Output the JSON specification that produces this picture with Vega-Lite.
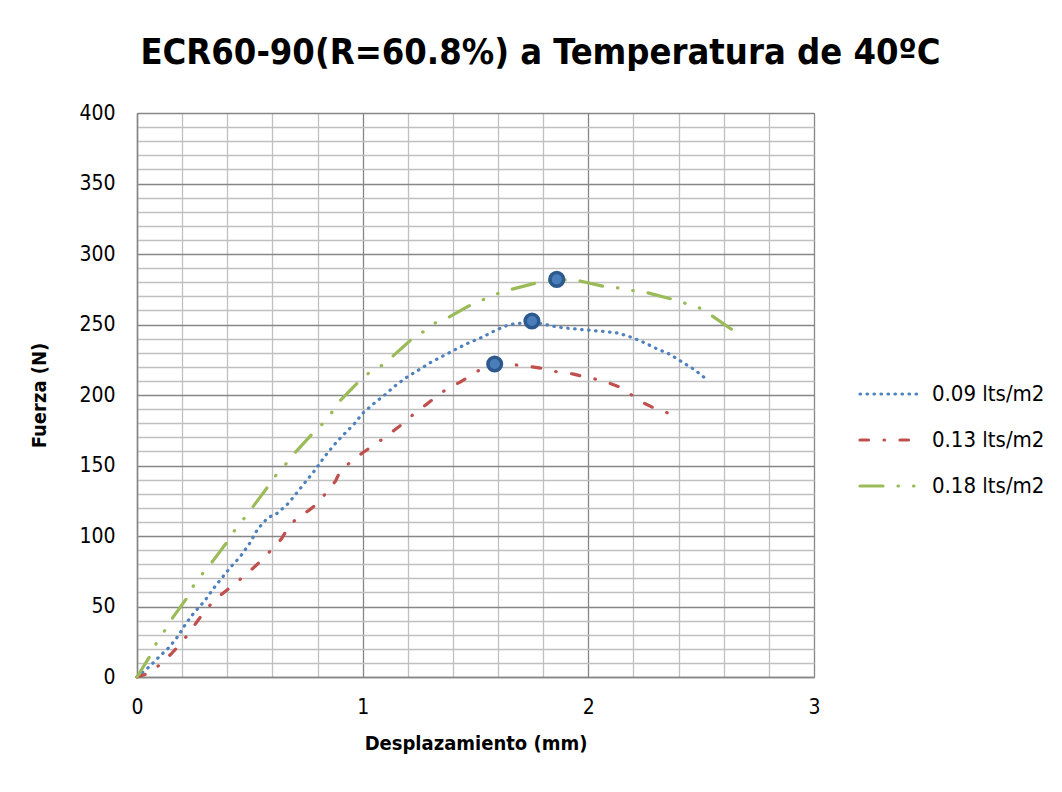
{
  "$schema": "https://vega.github.io/schema/vega-lite/v6.json",
  "autosize": {"type": "none"},
  "width": 677,
  "height": 564,
  "padding": {"left": 137, "top": 113, "right": 248, "bottom": 115},
  "background": "white",
  "title": {
    "text": "ECR60-90(R=60.8%) a Temperatura de 40ºC",
    "font": "DejaVu Sans Condensed",
    "fontSize": 36,
    "fontWeight": "bold",
    "color": "#000000",
    "anchor": "middle",
    "frame": "group",
    "dx": 65,
    "offset": 30
  },
  "config": {
    "view": {"stroke": "#868686", "strokeWidth": 1},
    "axis": {
      "labelFont": "DejaVu Sans Condensed",
      "labelFontSize": 21,
      "labelColor": "#000000",
      "titleFont": "DejaVu Sans Condensed",
      "titleFontSize": 20,
      "titleFontWeight": "bold",
      "titleColor": "#000000",
      "ticks": false,
      "domainColor": "#868686",
      "domainWidth": 1.5,
      "labelOverlap": false,
      "labelFlush": false
    },
    "legend": {
      "labelFont": "DejaVu Sans Condensed",
      "labelFontSize": 22,
      "labelColor": "#000000"
    }
  },
  "datasets": {
    "curves": [
      {"s": "0.09 lts/m2", "x": 0, "y": 0},
      {"s": "0.09 lts/m2", "x": 0.053, "y": 7},
      {"s": "0.09 lts/m2", "x": 0.096, "y": 14},
      {"s": "0.09 lts/m2", "x": 0.142, "y": 21},
      {"s": "0.09 lts/m2", "x": 0.182, "y": 29},
      {"s": "0.09 lts/m2", "x": 0.217, "y": 38},
      {"s": "0.09 lts/m2", "x": 0.25, "y": 45},
      {"s": "0.09 lts/m2", "x": 0.3, "y": 54},
      {"s": "0.09 lts/m2", "x": 0.34, "y": 63},
      {"s": "0.09 lts/m2", "x": 0.38, "y": 71},
      {"s": "0.09 lts/m2", "x": 0.415, "y": 78},
      {"s": "0.09 lts/m2", "x": 0.456, "y": 85},
      {"s": "0.09 lts/m2", "x": 0.5, "y": 95},
      {"s": "0.09 lts/m2", "x": 0.535, "y": 105},
      {"s": "0.09 lts/m2", "x": 0.58, "y": 113},
      {"s": "0.09 lts/m2", "x": 0.62, "y": 116},
      {"s": "0.09 lts/m2", "x": 0.67, "y": 123},
      {"s": "0.09 lts/m2", "x": 0.71, "y": 131},
      {"s": "0.09 lts/m2", "x": 0.75, "y": 139},
      {"s": "0.09 lts/m2", "x": 0.79, "y": 147},
      {"s": "0.09 lts/m2", "x": 0.83, "y": 156},
      {"s": "0.09 lts/m2", "x": 0.87, "y": 164},
      {"s": "0.09 lts/m2", "x": 0.91, "y": 171},
      {"s": "0.09 lts/m2", "x": 0.96, "y": 179},
      {"s": "0.09 lts/m2", "x": 1.0, "y": 187},
      {"s": "0.09 lts/m2", "x": 1.05, "y": 194},
      {"s": "0.09 lts/m2", "x": 1.09, "y": 199},
      {"s": "0.09 lts/m2", "x": 1.14, "y": 206},
      {"s": "0.09 lts/m2", "x": 1.19, "y": 212},
      {"s": "0.09 lts/m2", "x": 1.25, "y": 218},
      {"s": "0.09 lts/m2", "x": 1.3, "y": 223},
      {"s": "0.09 lts/m2", "x": 1.36, "y": 228},
      {"s": "0.09 lts/m2", "x": 1.42, "y": 233},
      {"s": "0.09 lts/m2", "x": 1.47, "y": 237},
      {"s": "0.09 lts/m2", "x": 1.53, "y": 241},
      {"s": "0.09 lts/m2", "x": 1.59, "y": 246},
      {"s": "0.09 lts/m2", "x": 1.65, "y": 250},
      {"s": "0.09 lts/m2", "x": 1.71, "y": 251},
      {"s": "0.09 lts/m2", "x": 1.75, "y": 252},
      {"s": "0.09 lts/m2", "x": 1.81, "y": 250},
      {"s": "0.09 lts/m2", "x": 1.87, "y": 248},
      {"s": "0.09 lts/m2", "x": 1.93, "y": 247},
      {"s": "0.09 lts/m2", "x": 2.0, "y": 246},
      {"s": "0.09 lts/m2", "x": 2.07, "y": 245},
      {"s": "0.09 lts/m2", "x": 2.13, "y": 244},
      {"s": "0.09 lts/m2", "x": 2.19, "y": 241},
      {"s": "0.09 lts/m2", "x": 2.25, "y": 237},
      {"s": "0.09 lts/m2", "x": 2.3, "y": 233},
      {"s": "0.09 lts/m2", "x": 2.36, "y": 229},
      {"s": "0.09 lts/m2", "x": 2.42, "y": 223},
      {"s": "0.09 lts/m2", "x": 2.47, "y": 218},
      {"s": "0.09 lts/m2", "x": 2.525, "y": 211},
      {"s": "0.13 lts/m2", "x": 0, "y": 0},
      {"s": "0.13 lts/m2", "x": 0.04, "y": 2},
      {"s": "0.13 lts/m2", "x": 0.066, "y": 4},
      {"s": "0.13 lts/m2", "x": 0.11, "y": 10},
      {"s": "0.13 lts/m2", "x": 0.155, "y": 17},
      {"s": "0.13 lts/m2", "x": 0.195, "y": 24},
      {"s": "0.13 lts/m2", "x": 0.23, "y": 31},
      {"s": "0.13 lts/m2", "x": 0.265, "y": 39},
      {"s": "0.13 lts/m2", "x": 0.297, "y": 46},
      {"s": "0.13 lts/m2", "x": 0.34, "y": 54},
      {"s": "0.13 lts/m2", "x": 0.385, "y": 60},
      {"s": "0.13 lts/m2", "x": 0.425, "y": 65},
      {"s": "0.13 lts/m2", "x": 0.47, "y": 71},
      {"s": "0.13 lts/m2", "x": 0.52, "y": 78},
      {"s": "0.13 lts/m2", "x": 0.56, "y": 84},
      {"s": "0.13 lts/m2", "x": 0.6, "y": 91},
      {"s": "0.13 lts/m2", "x": 0.64, "y": 98},
      {"s": "0.13 lts/m2", "x": 0.67, "y": 106},
      {"s": "0.13 lts/m2", "x": 0.71, "y": 113},
      {"s": "0.13 lts/m2", "x": 0.76, "y": 118},
      {"s": "0.13 lts/m2", "x": 0.8, "y": 123},
      {"s": "0.13 lts/m2", "x": 0.84, "y": 131},
      {"s": "0.13 lts/m2", "x": 0.88, "y": 139},
      {"s": "0.13 lts/m2", "x": 0.9, "y": 146},
      {"s": "0.13 lts/m2", "x": 0.95, "y": 153},
      {"s": "0.13 lts/m2", "x": 1.0, "y": 159},
      {"s": "0.13 lts/m2", "x": 1.045, "y": 164},
      {"s": "0.13 lts/m2", "x": 1.09, "y": 169},
      {"s": "0.13 lts/m2", "x": 1.14, "y": 175},
      {"s": "0.13 lts/m2", "x": 1.18, "y": 180},
      {"s": "0.13 lts/m2", "x": 1.23, "y": 187},
      {"s": "0.13 lts/m2", "x": 1.28, "y": 193},
      {"s": "0.13 lts/m2", "x": 1.32, "y": 198},
      {"s": "0.13 lts/m2", "x": 1.37, "y": 204},
      {"s": "0.13 lts/m2", "x": 1.43, "y": 209},
      {"s": "0.13 lts/m2", "x": 1.47, "y": 213},
      {"s": "0.13 lts/m2", "x": 1.52, "y": 218},
      {"s": "0.13 lts/m2", "x": 1.585, "y": 222},
      {"s": "0.13 lts/m2", "x": 1.63, "y": 223},
      {"s": "0.13 lts/m2", "x": 1.69, "y": 221},
      {"s": "0.13 lts/m2", "x": 1.75, "y": 220},
      {"s": "0.13 lts/m2", "x": 1.81, "y": 218.5},
      {"s": "0.13 lts/m2", "x": 1.87, "y": 216},
      {"s": "0.13 lts/m2", "x": 1.93, "y": 215},
      {"s": "0.13 lts/m2", "x": 1.98, "y": 213},
      {"s": "0.13 lts/m2", "x": 2.04, "y": 211},
      {"s": "0.13 lts/m2", "x": 2.1, "y": 208},
      {"s": "0.13 lts/m2", "x": 2.15, "y": 205},
      {"s": "0.13 lts/m2", "x": 2.2, "y": 199},
      {"s": "0.13 lts/m2", "x": 2.25, "y": 194},
      {"s": "0.13 lts/m2", "x": 2.3, "y": 190},
      {"s": "0.13 lts/m2", "x": 2.357, "y": 187},
      {"s": "0.18 lts/m2", "x": 0, "y": 0},
      {"s": "0.18 lts/m2", "x": 0.066, "y": 17},
      {"s": "0.18 lts/m2", "x": 0.09, "y": 25.5},
      {"s": "0.18 lts/m2", "x": 0.128, "y": 34},
      {"s": "0.18 lts/m2", "x": 0.16, "y": 42.5},
      {"s": "0.18 lts/m2", "x": 0.23, "y": 58},
      {"s": "0.18 lts/m2", "x": 0.257, "y": 67},
      {"s": "0.18 lts/m2", "x": 0.297, "y": 74.5},
      {"s": "0.18 lts/m2", "x": 0.335, "y": 82},
      {"s": "0.18 lts/m2", "x": 0.41, "y": 98},
      {"s": "0.18 lts/m2", "x": 0.44, "y": 106},
      {"s": "0.18 lts/m2", "x": 0.48, "y": 113.5},
      {"s": "0.18 lts/m2", "x": 0.515, "y": 121},
      {"s": "0.18 lts/m2", "x": 0.585, "y": 136},
      {"s": "0.18 lts/m2", "x": 0.62, "y": 144},
      {"s": "0.18 lts/m2", "x": 0.665, "y": 152},
      {"s": "0.18 lts/m2", "x": 0.7, "y": 159},
      {"s": "0.18 lts/m2", "x": 0.78, "y": 173},
      {"s": "0.18 lts/m2", "x": 0.825, "y": 180},
      {"s": "0.18 lts/m2", "x": 0.865, "y": 188},
      {"s": "0.18 lts/m2", "x": 0.9, "y": 196},
      {"s": "0.18 lts/m2", "x": 0.98, "y": 209},
      {"s": "0.18 lts/m2", "x": 1.03, "y": 216},
      {"s": "0.18 lts/m2", "x": 1.085, "y": 221},
      {"s": "0.18 lts/m2", "x": 1.13, "y": 227},
      {"s": "0.18 lts/m2", "x": 1.22, "y": 240},
      {"s": "0.18 lts/m2", "x": 1.27, "y": 245},
      {"s": "0.18 lts/m2", "x": 1.32, "y": 251},
      {"s": "0.18 lts/m2", "x": 1.38, "y": 255},
      {"s": "0.18 lts/m2", "x": 1.48, "y": 264},
      {"s": "0.18 lts/m2", "x": 1.54, "y": 268},
      {"s": "0.18 lts/m2", "x": 1.6, "y": 272},
      {"s": "0.18 lts/m2", "x": 1.66, "y": 275},
      {"s": "0.18 lts/m2", "x": 1.77, "y": 279.5},
      {"s": "0.18 lts/m2", "x": 1.86, "y": 282},
      {"s": "0.18 lts/m2", "x": 1.96, "y": 281},
      {"s": "0.18 lts/m2", "x": 2.07, "y": 277},
      {"s": "0.18 lts/m2", "x": 2.13, "y": 276},
      {"s": "0.18 lts/m2", "x": 2.2, "y": 274},
      {"s": "0.18 lts/m2", "x": 2.25, "y": 273},
      {"s": "0.18 lts/m2", "x": 2.37, "y": 268},
      {"s": "0.18 lts/m2", "x": 2.43, "y": 265},
      {"s": "0.18 lts/m2", "x": 2.49, "y": 262},
      {"s": "0.18 lts/m2", "x": 2.54, "y": 257},
      {"s": "0.18 lts/m2", "x": 2.64, "y": 246}
    ],
    "peaks": [
      {"s": "0.09 lts/m2", "x": 1.75, "y": 252.5},
      {"s": "0.13 lts/m2", "x": 1.585, "y": 222},
      {"s": "0.18 lts/m2", "x": 1.86, "y": 282}
    ]
  },
  "encoding": {
    "x": {
      "field": "x",
      "type": "quantitative",
      "scale": {"domain": [0, 3], "nice": false, "zero": true},
      "axis": {
        "title": "Desplazamiento (mm)",
        "values": [0, 0.2, 0.4, 0.6, 0.8, 1, 1.2, 1.4, 1.6, 1.8, 2, 2.2, 2.4, 2.6, 2.8, 3],
        "labelExpr": "abs(datum.value - round(datum.value)) < 0.001 ? '' + round(datum.value) : ''",
        "labelPadding": 19,
        "titlePadding": 16,
        "grid": true,
        "gridColor": {"condition": {"test": "abs(datum.value - round(datum.value)) < 0.001", "value": "#868686"}, "value": "#c0c0c0"},
        "gridWidth": 1.3
      }
    },
    "y": {
      "field": "y",
      "type": "quantitative",
      "scale": {"domain": [0, 400], "nice": false},
      "axis": {
        "title": "Fuerza (N)",
        "values": [0, 10, 20, 30, 40, 50, 60, 70, 80, 90, 100, 110, 120, 130, 140, 150, 160, 170, 180, 190, 200, 210, 220, 230, 240, 250, 260, 270, 280, 290, 300, 310, 320, 330, 340, 350, 360, 370, 380, 390, 400],
        "labelExpr": "datum.value % 50 === 0 ? '' + datum.value : ''",
        "labelPadding": 22,
        "titlePadding": 29,
        "grid": true,
        "gridColor": {"condition": {"test": "datum.value % 50 === 0", "value": "#868686"}, "value": "#c0c0c0"},
        "gridWidth": 1.3
      }
    }
  },
  "layer": [
    {
      "data": {"name": "curves"},
      "mark": {"type": "line", "strokeWidth": 3.2, "strokeCap": "round", "strokeJoin": "round"},
      "encoding": {
        "color": {
          "field": "s",
          "type": "nominal",
          "scale": {"domain": ["0.09 lts/m2", "0.13 lts/m2", "0.18 lts/m2"], "range": ["#4f81bd", "#c0504d", "#9bbb59"]},
          "legend": {
            "title": null,
            "orient": "none",
            "legendX": 721,
            "legendY": 249,
            "symbolType": "stroke",
            "symbolSize": 3600,
            "symbolStrokeWidth": 3.2,
            "labelOffset": 10,
            "rowPadding": 3,
            "encode": {"symbols": {"update": {"strokeCap": {"value": "round"}}}}
          }
        },
        "strokeDash": {
          "field": "s",
          "type": "nominal",
          "scale": {"domain": ["0.09 lts/m2", "0.13 lts/m2", "0.18 lts/m2"], "range": [[0.5, 6.5], [8.5, 15.5, 0.5, 15.5], [23, 15, 0.5, 15, 0.5, 15]]},
          "legend": {
            "title": null,
            "orient": "none",
            "legendX": 721,
            "legendY": 249,
            "symbolType": "stroke",
            "symbolSize": 3600,
            "symbolStrokeWidth": 3.2,
            "labelOffset": 10,
            "rowPadding": 3,
            "encode": {"symbols": {"update": {"strokeCap": {"value": "round"}}}}
          }
        }
      }
    },
    {
      "data": {"name": "peaks"},
      "mark": {"type": "point", "filled": true, "fill": "#4a7ebb", "stroke": "#2c5a8e", "strokeWidth": 3.5, "size": 185, "opacity": 1}
    }
  ]
}
